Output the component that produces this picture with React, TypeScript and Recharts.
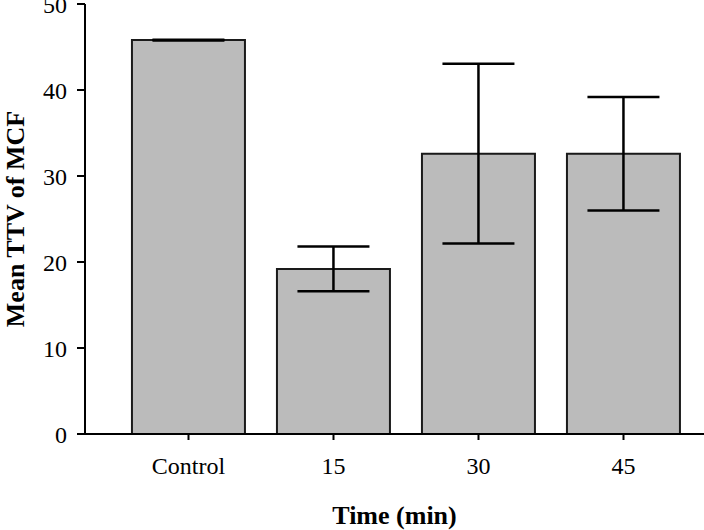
import { BarChart, Bar, XAxis, YAxis, ErrorBar, Label } from "recharts";

const groups = ["Control", "15", "30", "45"];
const meanTtv = [45.8, 19.2, 32.6, 32.6];
const sdTtv = [0.05, 2.6, 10.45, 6.6];
const yTicks = [0, 10, 20, 30, 40, 50];

const data = groups.map((g, i) => ({ group: g, ttv: meanTtv[i], err: sdTtv[i] }));

const font = "'Liberation Serif', 'Times New Roman', serif";
const tickStyle = { fill: "#000", fontSize: 24, fontFamily: font };

function YTitle({ viewBox }: any) {
  const cx = 15;
  const cy = viewBox.y + viewBox.height / 2;
  return (
    <text
      x={cx}
      y={cy}
      transform={`rotate(-90, ${cx}, ${cy})`}
      textAnchor="middle"
      dominantBaseline="central"
      fontFamily={font}
      fontSize={26}
      fontWeight="bold"
      fill="#000"
    >
      Mean TTV of MCF
    </text>
  );
}

export default function App() {
  return (
    <div style={{ position: "absolute", left: 0, top: 0, background: "#fff" }}>
      <BarChart
        width={704}
        height={530}
        data={data}
        margin={{ top: 4, right: 0, bottom: 0, left: 0 }}
        barCategoryGap="11%"
      >
        <XAxis
          dataKey="group"
          height={96}
          padding={{ left: 31, right: 8 }}
          tick={tickStyle}
          tickSize={6}
          tickMargin={17}
          axisLine={{ stroke: "#000", strokeWidth: 2 }}
          tickLine={{ stroke: "#000", strokeWidth: 2 }}
        >
          <Label
            value="Time (min)"
            position="insideBottom"
            offset={6}
            style={{ fontFamily: font, fontSize: 26, fontWeight: "bold", fill: "#000" }}
          />
        </XAxis>
        <YAxis
          width={85}
          domain={[0, 50]}
          ticks={yTicks}
          interval={0}
          tick={tickStyle}
          tickSize={8}
          tickMargin={10}
          axisLine={{ stroke: "#000", strokeWidth: 2 }}
          tickLine={{ stroke: "#000", strokeWidth: 2 }}
        >
          <Label content={<YTitle />} />
        </YAxis>
        <Bar dataKey="ttv" fill="#bbbbbb" stroke="#1a1a1a" strokeWidth={2} isAnimationActive={false}>
          <ErrorBar dataKey="err" width={36} stroke="#000" strokeWidth={2.5} isAnimationActive={false} />
        </Bar>
      </BarChart>
    </div>
  );
}
